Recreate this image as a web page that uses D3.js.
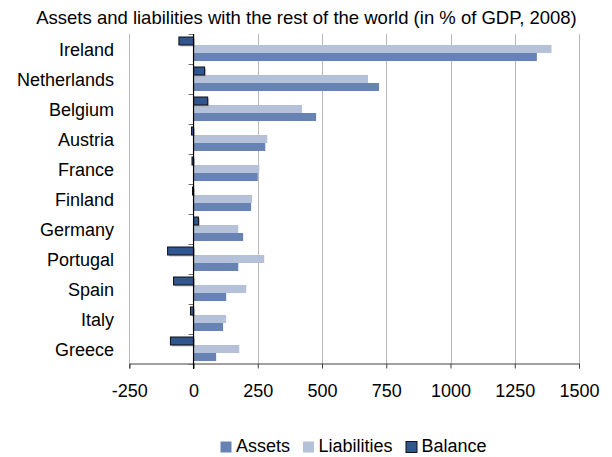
<!DOCTYPE html>
<html>
<head>
<meta charset="utf-8">
<script src="https://cdn.jsdelivr.net/npm/d3@7"></script>
<style>
  html, body { margin: 0; padding: 0; background: #fff; }
  svg { display: block; font-family: "Liberation Sans", Arial, sans-serif; }
</style>
</head>
<body>
<svg id="chart" width="612" height="457"></svg>
<script>
// Country categories, top to bottom
const countries = ["Ireland", "Netherlands", "Belgium", "Austria", "France", "Finland",
                   "Germany", "Portugal", "Spain", "Italy", "Greece"];
// Values in % of GDP, 2008
const assets      = [1336, 722, 477, 279, 250, 224, 193, 174, 127, 115, 88];
const liabilities = [1393, 679, 422, 287, 256, 228, 174, 275, 205, 127, 178];
const balance     = [-57, 43, 55, -8, -6, -4, 19, -101, -78, -12, -90];
const xTicks = [-250, 0, 250, 500, 750, 1000, 1250, 1500];
const seriesNames = ["Assets", "Liabilities", "Balance"];
const colors = { Assets: "#6783b4", Liabilities: "#b4c1d9", Balance: "#30558f" };

const svg = d3.select("#chart");

const x = d3.scaleLinear().domain([-250, 1500]).range([129.3, 579]);
const y = d3.scaleBand().domain(countries).range([34, 364]);
// Within each country: Balance on top, then Liabilities, then Assets
const ySub = d3.scaleBand().domain(["Balance", "Liabilities", "Assets"])
  .range([0, y.bandwidth()]).paddingOuter(0.375);

const rows = countries.map((c, i) => ({
  country: c,
  Assets: assets[i], Liabilities: liabilities[i], Balance: balance[i]
}));

// Title
svg.append("text")
  .attr("x", 306.5).attr("y", 24)
  .attr("text-anchor", "middle")
  .attr("font-size", 18.5).attr("fill", "#000")
  .text("Assets and liabilities with the rest of the world (in % of GDP, 2008)");

// Vertical gridlines
svg.append("g").selectAll("line")
  .data(xTicks.filter(t => t !== 0))
  .join("line")
  .attr("x1", d => Math.round(x(d)) + 0.5).attr("x2", d => Math.round(x(d)) + 0.5)
  .attr("y1", 34).attr("y2", 363)
  .attr("stroke", "#b8b8b8").attr("stroke-width", 1);

// Bars
const groups = svg.append("g").selectAll("g")
  .data(rows).join("g")
  .attr("transform", d => `translate(0,${y(d.country)})`);

["Liabilities", "Assets"].forEach(s => {
  groups.append("rect")
    .attr("x", d => x(Math.min(0, d[s])))
    .attr("y", ySub(s))
    .attr("width", d => Math.abs(x(d[s]) - x(0)))
    .attr("height", ySub.bandwidth())
    .attr("fill", colors[s]);
});

// Balance bars with a soft shadow and dark outline
groups.append("rect")
  .attr("x", d => x(Math.min(0, d.Balance)) + 1.5)
  .attr("y", ySub("Balance") + 1.5)
  .attr("width", d => Math.abs(x(d.Balance) - x(0)))
  .attr("height", ySub.bandwidth())
  .attr("fill", "#9a9a9a").attr("opacity", 0.6);
groups.append("rect")
  .attr("x", d => x(Math.min(0, d.Balance)))
  .attr("y", ySub("Balance"))
  .attr("width", d => Math.abs(x(d.Balance) - x(0)))
  .attr("height", ySub.bandwidth())
  .attr("fill", colors.Balance)
  .attr("stroke", "#111").attr("stroke-width", 1);

// Bottom axis
const xAxis = svg.append("g")
  .attr("transform", "translate(0,363.5)")
  .call(d3.axisBottom(x).tickValues(xTicks).tickSize(5).tickPadding(15.5).tickFormat(d => String(d)));
xAxis.select(".domain").attr("stroke", "#404040");
xAxis.selectAll(".tick line").attr("stroke", "#404040");
xAxis.selectAll(".tick text")
  .attr("font-size", 18).attr("fill", "#000")
  .attr("font-family", "Liberation Sans, Arial, sans-serif");

// Category axis along the zero line
const boundaries = countries.map(c => y(c)).concat([y.range()[1]]);
svg.append("g").selectAll("line")
  .data(boundaries).join("line")
  .attr("x1", x(0) - 5).attr("x2", x(0))
  .attr("y1", d => d + 0.5).attr("y2", d => d + 0.5)
  .attr("stroke", "#707070");
svg.append("line")
  .attr("x1", x(0)).attr("x2", x(0))
  .attr("y1", 34).attr("y2", 369)
  .attr("stroke", "#000").attr("stroke-width", 1.2);

// Category labels
svg.append("g").selectAll("text")
  .data(countries).join("text")
  .attr("x", 114)
  .attr("y", d => y(d) + y.bandwidth() / 2 + 6.5)
  .attr("text-anchor", "end")
  .attr("font-size", 18).attr("fill", "#000")
  .text(d => d);

// Legend
const legendItems = [
  { name: "Assets", x: 220 },
  { name: "Liabilities", x: 302.5 },
  { name: "Balance", x: 405.5 }
];
const legend = svg.append("g").selectAll("g")
  .data(legendItems).join("g")
  .attr("transform", d => `translate(${d.x},441)`);
legend.append("rect")
  .attr("x", 0.5).attr("y", 0.5)
  .attr("width", 11).attr("height", 11)
  .attr("fill", d => colors[d.name])
  .attr("stroke", d => d.name === "Balance" ? "#111" : "none");
legend.append("text")
  .attr("x", 16).attr("y", 11)
  .attr("font-size", 18).attr("fill", "#000")
  .text(d => d.name);
</script>
</body>
</html>
